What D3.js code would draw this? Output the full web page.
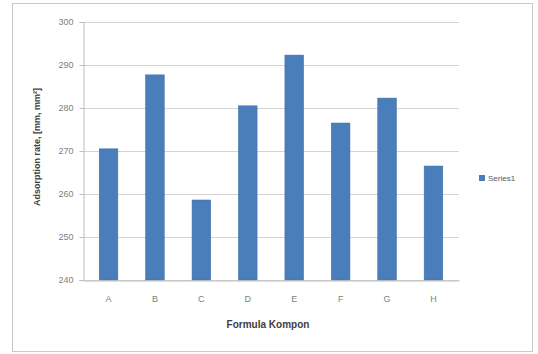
<!DOCTYPE html>
<html>
<head>
<meta charset="utf-8">
<script src="https://cdn.jsdelivr.net/npm/d3@7"></script>
<style>
  body { margin: 0; background: #fff; }
  svg { display: block; font-family: "Liberation Sans", Arial, sans-serif; }
</style>
</head>
<body>
<div id="chart"></div>
<script>
const categories = ["A", "B", "C", "D", "E", "F", "G", "H"];
const series1 = [270.5, 287.7, 258.6, 280.5, 292.3, 276.5, 282.3, 266.5];
const yTicks = [240, 250, 260, 270, 280, 290, 300];
const seriesName = "Series1";
const xTitle = "Formula Kompon";
const yTitle = "Adsorption rate, [mm, mm²]";

const W = 538, H = 354;
const plot = { left: 83, right: 459, top: 22, bottom: 280 };
const BAR = "#4a7ebb";

const svg = d3.select("#chart").append("svg")
    .attr("width", W)
    .attr("height", H);

// outer chart border
svg.append("rect")
    .attr("x", 12.5).attr("y", 3.5)
    .attr("width", 520).attr("height", 348)
    .attr("fill", "#fff")
    .attr("stroke", "#c8c8c8");

const x = d3.scaleBand()
    .domain(categories)
    .range([plot.left, plot.right])
    .paddingInner(0.6)
    .paddingOuter(0.35);

const y = d3.scaleLinear()
    .domain([240, 300])
    .range([plot.bottom, plot.top]);

// gridlines
svg.append("g")
    .selectAll("line")
    .data(yTicks)
    .enter()
    .append("line")
    .attr("x1", plot.left)
    .attr("x2", plot.right)
    .attr("y1", d => Math.round(y(d)) + 0.5)
    .attr("y2", d => Math.round(y(d)) + 0.5)
    .attr("stroke", "#d4d4d4");

// y axis
const yAxis = svg.append("g")
    .attr("transform", `translate(${plot.left + 0.5},0)`)
    .call(d3.axisLeft(y).tickValues(yTicks).tickSize(4).tickPadding(6));
yAxis.select(".domain").attr("stroke", "#bfbfbf");
yAxis.selectAll(".tick line").attr("stroke", "#bfbfbf");
yAxis.selectAll(".tick text").attr("fill", "#808080").style("font-size", "9px");

// bars
svg.append("g")
    .selectAll("rect")
    .data(series1)
    .enter()
    .append("rect")
    .attr("x", (d, i) => x(categories[i]))
    .attr("y", d => y(d))
    .attr("width", x.bandwidth())
    .attr("height", d => plot.bottom - y(d))
    .attr("fill", BAR)
    .attr("stroke", "#3f6fa8")
    .attr("stroke-width", 0.6);

// x axis
const xAxis = svg.append("g")
    .attr("transform", `translate(0,${plot.bottom + 0.5})`)
    .call(d3.axisBottom(x).tickSize(0).tickPadding(15));
xAxis.select(".domain").attr("stroke", "#bfbfbf");
xAxis.selectAll(".tick text").attr("fill", "#808080").style("font-size", "9px");

// axis titles
svg.append("text")
    .attr("x", 268)
    .attr("y", 328)
    .attr("text-anchor", "middle")
    .style("font-size", "10px")
    .style("font-weight", "bold")
    .attr("fill", "#404040")
    .text(xTitle);

svg.append("text")
    .attr("transform", "rotate(-90)")
    .attr("x", -147)
    .attr("y", 40)
    .attr("text-anchor", "middle")
    .style("font-size", "9px")
    .style("font-weight", "bold")
    .attr("fill", "#404040")
    .text(yTitle);

// legend
const legend = svg.append("g").attr("transform", "translate(479,175)");
legend.append("rect")
    .attr("width", 6).attr("height", 6)
    .attr("fill", BAR);
legend.append("text")
    .attr("x", 9).attr("y", 6)
    .style("font-size", "8px")
    .attr("fill", "#595959")
    .text(seriesName);
</script>
</body>
</html>
